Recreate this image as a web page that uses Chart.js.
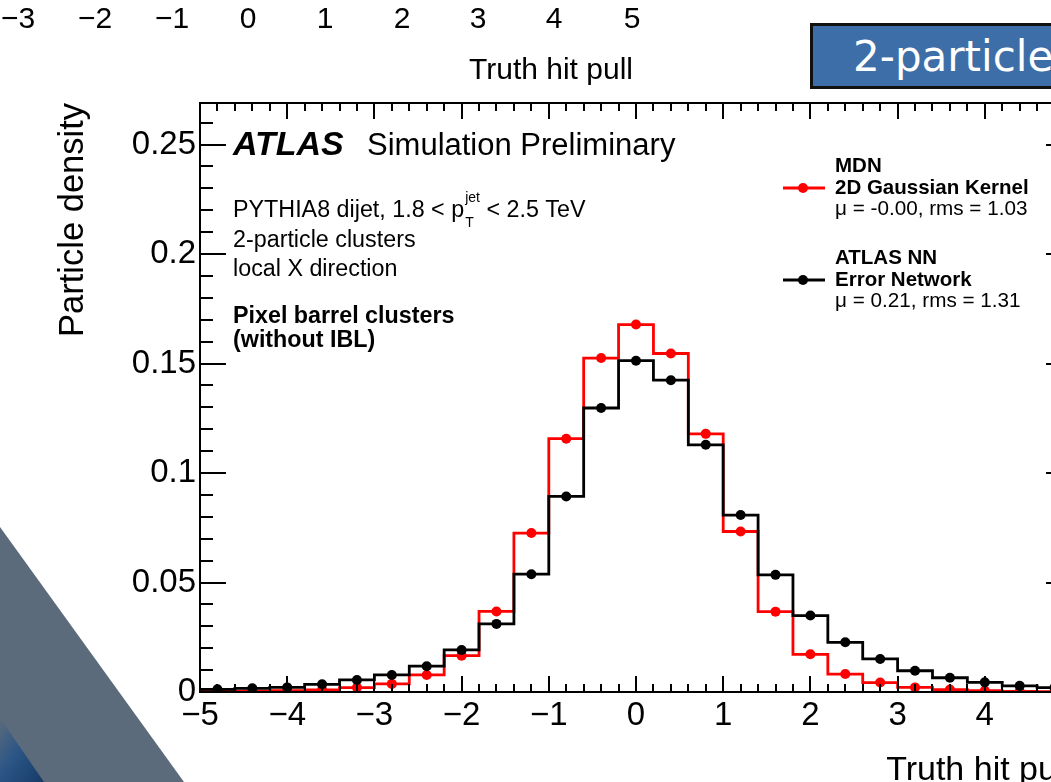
<!DOCTYPE html>
<html>
<head>
<meta charset="utf-8">
<script src="https://cdn.jsdelivr.net/npm/chart.js@4.4.1/dist/chart.umd.min.js"></script>
<style>
  html, body { margin: 0; padding: 0; background: #fff; overflow: hidden; }
  #page { position: relative; width: 1051px; height: 782px; overflow: hidden; background: #fff;
          font-family: "Liberation Sans", Arial, Helvetica, sans-serif; }
  #wrap { position: absolute; left: 0; top: 0; width: 1100px; height: 800px; }
  .prev-tick { position: absolute; top: 3px; font-size: 30px; line-height: 30px; transform: translateX(-50%); color: #000; }
  #prev-title { position: absolute; right: 418px; top: 54px; font-size: 30px; line-height: 30px; color: #000; }
  #banner { position: absolute; left: 810px; top: 23px; width: 320px; height: 60px;
            background: #3d6ea8; border: 3px solid #111; }
  #banner span { position: absolute; left: 40px; top: 10px; font-family: "DejaVu Sans", sans-serif;
                 font-size: 42px; line-height: 42px; color: #fff; white-space: nowrap; }
  #deco { position: absolute; left: 0; top: 0; }
</style>
</head>
<body>
<div id="page">
  <div id="wrap"><canvas id="pull-chart" width="1100" height="800"></canvas></div>
  <div id="prev-axis"></div>
  <div id="prev-title">Truth hit pull</div>
  <div id="banner"><span>2-particle clusters</span></div>
  <svg id="deco" width="220" height="782">
    <defs>
      <linearGradient id="corner" x1="0" y1="0" x2="1" y2="1">
        <stop offset="0" stop-color="#5b6b7b"/>
        <stop offset="0.45" stop-color="#2c5686"/>
        <stop offset="1" stop-color="#163a66"/>
      </linearGradient>
    </defs>
    <polygon points="0,527 184,782 0,782" fill="#5b6b7b"/>
    <polygon points="0,718 44,782 0,782" fill="url(#corner)"/>
  </svg>
</div>
<script>
const FONT = '"Liberation Sans", Arial, Helvetica, sans-serif';

// histogram binning (truth hit pull), 0.4 wide bins from -5 to 5
const binEdges = [-5, -4.6, -4.2, -3.8, -3.4, -3.0, -2.6, -2.2, -1.8, -1.4, -1.0, -0.6, -0.2,
                  0.2, 0.6, 1.0, 1.4, 1.8, 2.2, 2.6, 3.0, 3.4, 3.8, 4.2, 4.6, 5];
const binCenters = [-4.8, -4.4, -4.0, -3.6, -3.2, -2.8, -2.4, -2.0, -1.6, -1.2, -0.8, -0.4, 0,
                    0.4, 0.8, 1.2, 1.6, 2.0, 2.4, 2.8, 3.2, 3.6, 4.0, 4.4, 4.8];

// MDN, 2D Gaussian Kernel (red)
const mdnValues = [0.0003, 0.0004, 0.0006, 0.0010, 0.0020, 0.0037, 0.0078, 0.0166, 0.0368, 0.0726,
                   0.1157, 0.1525, 0.1678, 0.1546, 0.1179, 0.0733, 0.0367, 0.0172, 0.0082, 0.0043,
                   0.0021, 0.0011, 0.0006, 0.0003, 0.0002];
// ATLAS NN, Error Network (black)
const nnValues = [0.0012, 0.0017, 0.0021, 0.0035, 0.0055, 0.0078, 0.0118, 0.0192, 0.0311, 0.0538,
                  0.0893, 0.1297, 0.1513, 0.1424, 0.1129, 0.0808, 0.0535, 0.0349, 0.0227, 0.0151,
                  0.0097, 0.0065, 0.0044, 0.0028, 0.0020];

const xTicks = [-5, -4, -3, -2, -1, 0, 1, 2, 3, 4, 5];
const xTickLabels = ['\u22125', '\u22124', '\u22123', '\u22122', '\u22121', '0', '1', '2', '3', '4', '5'];
const yTicks = [0, 0.05, 0.1, 0.15, 0.2, 0.25];
const yTickLabels = ['0', '0.05', '0.1', '0.15', '0.2', '0.25'];

// axis of the plot above it on the slide (only its labels show)
const prevTickLabels = ['\u22123', '\u22122', '\u22121', '0', '1', '2', '3', '4', '5'];
const prevTickPos = [18, 95, 172, 248, 325, 402, 478, 554, 632];

const prevAxis = document.getElementById('prev-axis');
prevTickLabels.forEach((t, i) => {
    const el = document.createElement('div');
    el.className = 'prev-tick';
    el.style.left = prevTickPos[i] + 'px';
    el.textContent = t;
    prevAxis.appendChild(el);
});

const stepData = (vals) => binEdges.map((e, i) => ({ x: e, y: vals[Math.min(i, vals.length - 1)] }));
const pointData = (vals) => binCenters.map((c, i) => ({ x: c, y: vals[i] }));

// ROOT style frame with inward ticks on all four sides
const frameTicks = {
    id: 'frameTicks',
    afterDraw(chart) {
        const { ctx, chartArea: a, scales: { x, y } } = chart;
        ctx.save();
        ctx.strokeStyle = '#000';
        ctx.lineWidth = 2;
        ctx.beginPath();
        for (let i = 0; i <= 50; i++) {
            const px = Math.round(x.getPixelForValue(x.min + i * 0.2));
            const len = i % 5 === 0 ? 16 : 8;
            ctx.moveTo(px, a.bottom); ctx.lineTo(px, a.bottom - len);
            ctx.moveTo(px, a.top); ctx.lineTo(px, a.top + len);
        }
        for (let i = 0; i * 0.01 <= y.max + 1e-9; i++) {
            const py = Math.round(y.getPixelForValue(i * 0.01));
            const len = i % 5 === 0 ? 26 : 13;
            ctx.moveTo(a.left, py); ctx.lineTo(a.left + len, py);
            ctx.moveTo(a.right, py); ctx.lineTo(a.right - len, py);
        }
        ctx.stroke();
        ctx.strokeRect(a.left, a.top, a.right - a.left, a.bottom - a.top);
        ctx.restore();
    }
};

const atlasText = {
    id: 'atlasText',
    afterDraw(chart) {
        const ctx = chart.ctx;
        ctx.save();
        ctx.fillStyle = '#000';
        ctx.textAlign = 'left';
        ctx.textBaseline = 'alphabetic';

        ctx.font = `italic bold 34px ${FONT}`;
        ctx.fillText('ATLAS', 233, 155);
        ctx.font = `31px ${FONT}`;
        ctx.fillText('Simulation Preliminary', 367, 155);

        ctx.font = `23.3px ${FONT}`;
        const head = 'PYTHIA8 dijet, 1.8 < p';
        ctx.fillText(head, 233, 217);
        const px = 233 + ctx.measureText(head).width + 1;
        ctx.font = `14px ${FONT}`;
        ctx.fillText('T', px, 227);
        ctx.fillText('jet', px, 202);
        const w = Math.max(ctx.measureText('T').width, ctx.measureText('jet').width);
        ctx.font = `23.3px ${FONT}`;
        ctx.fillText(' < 2.5 TeV', px + w, 217);
        ctx.fillText('2-particle clusters', 233, 247);
        ctx.fillText('local X direction', 233, 276);

        ctx.font = `bold 23.3px ${FONT}`;
        ctx.fillText('Pixel barrel clusters', 233, 323);
        ctx.fillText('(without IBL)', 233, 347);

        // legend
        const entries = [
            { color: '#ff0000', y: 172, lines: ['MDN', '2D Gaussian Kernel', '\u03bc = -0.00, rms = 1.03'] },
            { color: '#000000', y: 264, lines: ['ATLAS NN', 'Error Network', '\u03bc = 0.21, rms = 1.31'] }
        ];
        entries.forEach(e => {
            const ly = e.y + 16;
            ctx.strokeStyle = e.color;
            ctx.lineWidth = 3;
            ctx.beginPath();
            ctx.moveTo(783, ly); ctx.lineTo(825, ly);
            ctx.stroke();
            ctx.fillStyle = e.color;
            ctx.beginPath();
            ctx.arc(803, ly, 5, 0, Math.PI * 2);
            ctx.fill();
            ctx.fillStyle = '#000';
            ctx.font = `bold 20.5px ${FONT}`;
            ctx.fillText(e.lines[0], 835, e.y);
            ctx.fillText(e.lines[1], 835, e.y + 22);
            ctx.font = `20.7px ${FONT}`;
            ctx.fillText(e.lines[2], 835, e.y + 43);
        });
        ctx.restore();
    }
};

Chart.defaults.font.family = FONT;
Chart.defaults.color = '#000';

new Chart(document.getElementById('pull-chart'), {
    type: 'line',
    data: {
        datasets: [
            {
                label: 'ATLAS NN Error Network',
                data: pointData(nnValues),
                showLine: false,
                pointRadius: 5,
                pointBackgroundColor: '#000',
                pointBorderWidth: 0,
                order: 0
            },
            {
                label: 'ATLAS NN hist',
                data: stepData(nnValues),
                stepped: 'before',
                borderColor: '#000',
                borderWidth: 2.8,
                pointRadius: 0,
                fill: false,
                order: 1
            },
            {
                label: 'MDN 2D Gaussian Kernel',
                data: pointData(mdnValues),
                showLine: false,
                pointRadius: 5,
                pointBackgroundColor: '#ff0000',
                pointBorderWidth: 0,
                order: 2
            },
            {
                label: 'MDN hist',
                data: stepData(mdnValues),
                stepped: 'before',
                borderColor: '#ff0000',
                borderWidth: 2.8,
                pointRadius: 0,
                fill: false,
                order: 3
            }
        ]
    },
    options: {
        responsive: false,
        animation: false,
        layout: { padding: { top: 103, right: 28, left: 0, bottom: 0 } },
        plugins: {
            legend: { display: false },
            tooltip: { enabled: false }
        },
        scales: {
            x: {
                type: 'linear',
                min: -5,
                max: 5,
                afterBuildTicks: (s) => { s.ticks = xTicks.map(v => ({ value: v })); },
                afterFit: (s) => { s.height = 108; },
                ticks: {
                    callback: (v, i) => xTickLabels[i],
                    font: { size: 33 },
                    color: '#000',
                    padding: 4,
                    maxRotation: 0,
                    autoSkip: false
                },
                grid: { display: false, drawTicks: false },
                border: { display: false },
                title: {
                    display: true,
                    text: 'Truth hit pull',
                    align: 'end',
                    color: '#000',
                    font: { size: 34 },
                    padding: { top: 0, bottom: 9 }
                }
            },
            y: {
                type: 'linear',
                min: 0,
                max: 0.269,
                afterBuildTicks: (s) => { s.ticks = yTicks.map(v => ({ value: v })); },
                afterFit: (s) => { s.width = 200; },
                ticks: {
                    callback: (v, i) => yTickLabels[i],
                    font: { size: 33 },
                    color: '#000',
                    padding: 4,
                    autoSkip: false
                },
                grid: { display: false, drawTicks: false },
                border: { display: false },
                title: {
                    display: true,
                    text: 'Particle density',
                    align: 'end',
                    color: '#000',
                    font: { size: 34.5 },
                    padding: { top: 53, bottom: 0 }
                }
            }
        }
    },
    plugins: [frameTicks, atlasText]
});
</script>
</body>
</html>
